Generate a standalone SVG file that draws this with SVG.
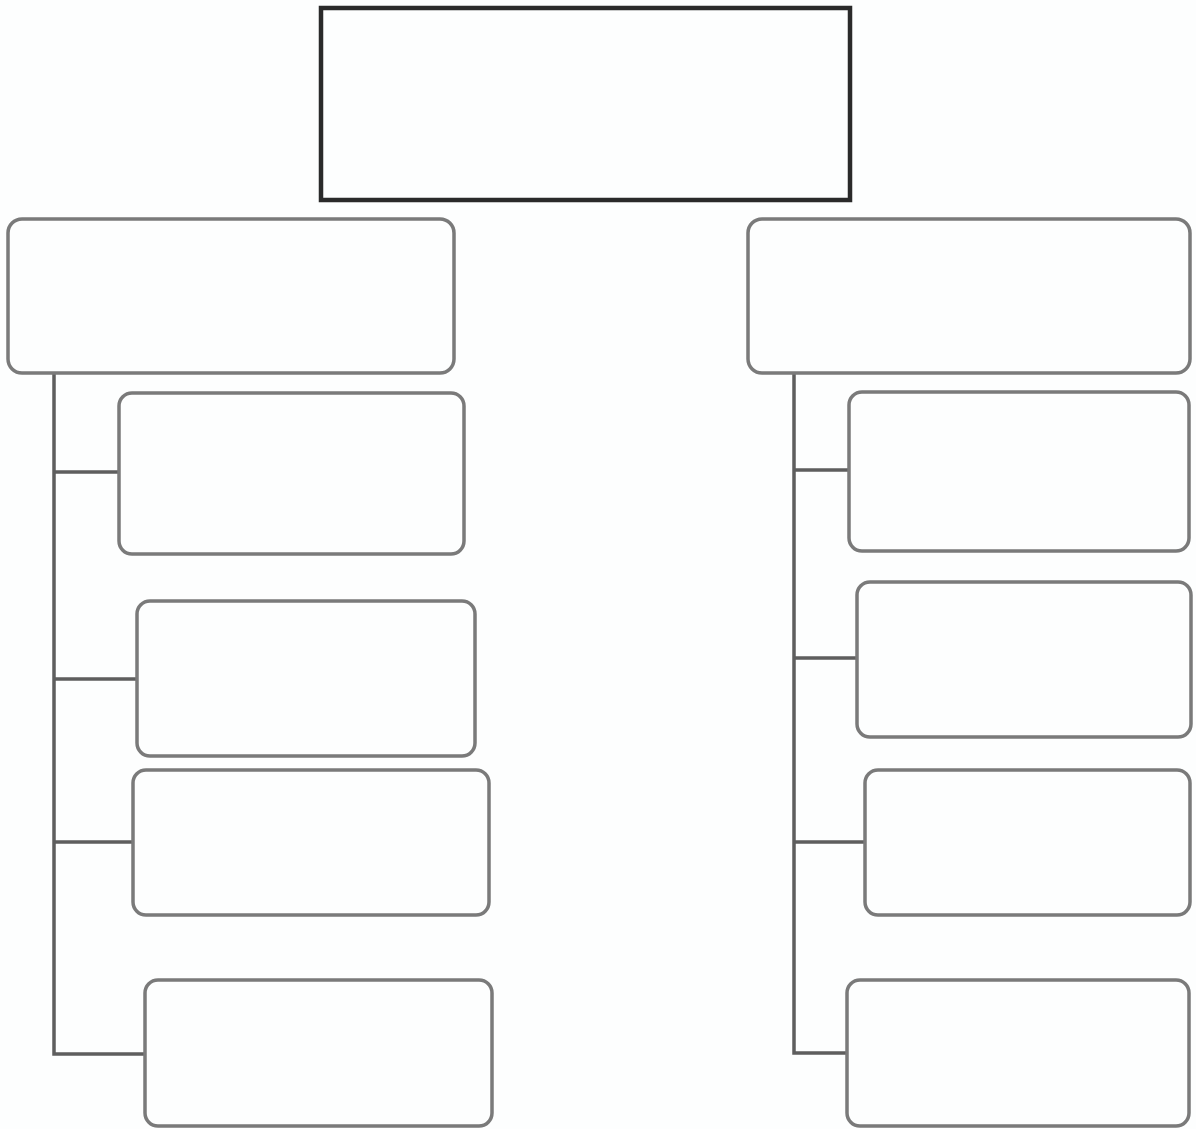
<svg xmlns="http://www.w3.org/2000/svg" width="1196" height="1129" viewBox="0 0 1196 1129">
<style>
.bg{fill:#fdfefe}
.top{fill:#fdfefe;stroke:#2a2a2a;stroke-width:4.5}
.box{fill:#fdfefe;stroke:#7a7a7a;stroke-width:3.5}
.conn{fill:none;stroke:#5e5e5e;stroke-width:3.5}
</style>
<rect class="bg" x="0" y="0" width="1196" height="1129"/>
<g id="connectors">
<path class="conn" d="M54,373 V1054 H145 M54,472 H119 M54,679 H137 M54,842 H133"/>
<path class="conn" d="M794,373 V1053 H847 M794,470 H849 M794,658 H857 M794,842 H865"/>
</g>
<g id="root"><rect class="top" x="321" y="8" width="529" height="192"/></g>
<g id="left"><rect class="box" x="8" y="219" width="446" height="154" rx="14"/></g>
<g id="right"><rect class="box" x="748" y="219" width="442" height="154" rx="14"/></g>
<g id="left1"><rect class="box" x="119" y="393" width="345" height="161" rx="13"/></g>
<g id="left2"><rect class="box" x="137" y="601" width="338" height="155" rx="13"/></g>
<g id="left3"><rect class="box" x="133" y="770" width="356" height="145" rx="13"/></g>
<g id="left4"><rect class="box" x="145" y="980" width="347" height="146" rx="13"/></g>
<g id="right1"><rect class="box" x="849" y="392" width="340" height="159" rx="13"/></g>
<g id="right2"><rect class="box" x="857" y="582" width="334" height="155" rx="13"/></g>
<g id="right3"><rect class="box" x="865" y="770" width="325" height="145" rx="13"/></g>
<g id="right4"><rect class="box" x="847" y="980" width="342" height="146" rx="13"/></g>
</svg>
